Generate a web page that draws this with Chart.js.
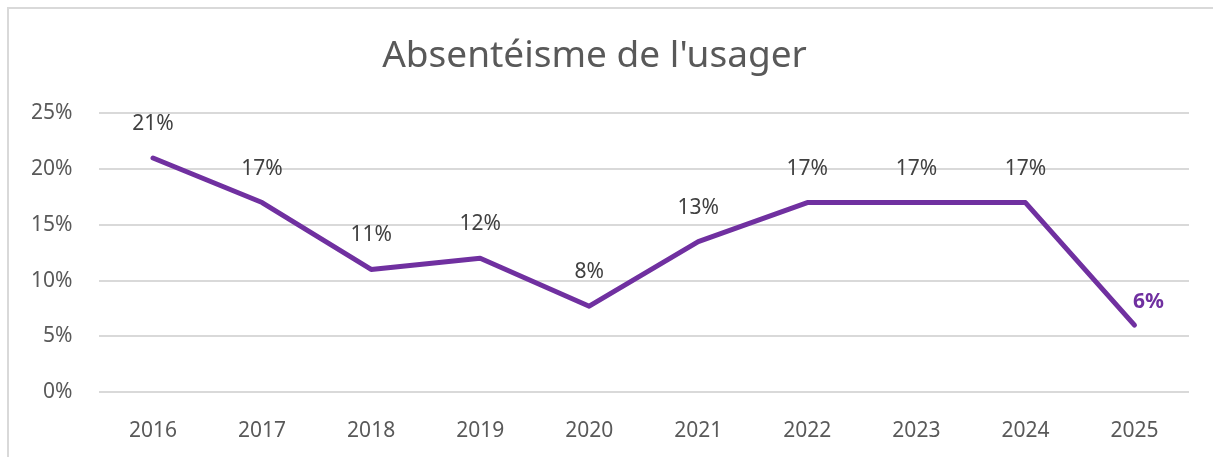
<!DOCTYPE html>
<html>
<head>
<meta charset="utf-8">
<script src="https://cdn.jsdelivr.net/npm/chart.js@4"></script>
<style>
  html, body { margin: 0; padding: 0; background: #fff; overflow: hidden; }
  #frame { position: absolute; left: 7px; top: 7px; width: 1230px; height: 480px; border: 2px solid #d9d9d9; box-sizing: border-box; }
  #wrap { position: absolute; left: 0; top: 0; width: 1213px; height: 457px; }
</style>
</head>
<body>
<div id="frame"></div>
<div id="wrap"><canvas id="myChart" width="1213" height="457"></canvas></div>
<script>
// DATA
const years = ['2016', '2017', '2018', '2019', '2020', '2021', '2022', '2023', '2024', '2025'];
const absenteeism = [21, 17, 11, 12, 7.7, 13.5, 17, 17, 17, 6];
const pointLabels = ['21%', '17%', '11%', '12%', '8%', '13%', '17%', '17%', '17%', '6%'];
const yTicks = [0, 5, 10, 15, 20, 25];

const FONT = "'Comic Sans MS', 'Noto Sans', sans-serif";
const PURPLE = '#7030A0';
const GREY_TEXT = '#595959';

// DATA LABELS (no plugin available offline)
const valueLabels = {
    id: 'valueLabels',
    afterDatasetsDraw(chart) {
        const ctx = chart.ctx;
        const meta = chart.getDatasetMeta(0);
        ctx.save();
        ctx.textAlign = 'center';
        ctx.textBaseline = 'middle';
        meta.data.forEach((pt, i) => {
            const last = i === meta.data.length - 1;
            if (last) {
                ctx.font = 'bold 21px ' + FONT;
                ctx.fillStyle = PURPLE;
                ctx.fillText(pointLabels[i], pt.x + 14, pt.y - 23);
            } else {
                ctx.font = '21px ' + FONT;
                ctx.fillStyle = '#404040';
                ctx.fillText(pointLabels[i], pt.x, pt.y - 34);
            }
        });
        ctx.restore();
    }
};

var ctx = document.getElementById('myChart');
var myChart = new Chart(ctx, {
    type: 'line',
    data: {
        labels: years,
        datasets: [{
            label: "Absentéisme de l'usager",
            data: absenteeism,
            borderColor: PURPLE,
            borderWidth: 5,
            borderCapStyle: 'round',
            borderJoinStyle: 'round',
            pointRadius: 0,
            tension: 0,
            fill: false
        }]
    },
    options: {
        responsive: false,
        animation: false,
        layout: { padding: { left: 0, right: 24, top: 0, bottom: 0 } },
        plugins: {
            legend: { display: false },
            tooltip: { enabled: false },
            title: {
                display: true,
                text: "Absentéisme de l'usager",
                color: GREY_TEXT,
                font: { family: FONT, size: 37, weight: 'normal', lineHeight: 1.2 },
                padding: { top: 34, bottom: 35 }
            }
        },
        scales: {
            x: {
                offset: true,
                grid: { display: false },
                border: { display: false },
                ticks: { color: GREY_TEXT, font: { family: FONT, size: 21 }, padding: 18 },
                afterFit(scale) { scale.height = 65; }
            },
            y: {
                min: 0,
                max: 25,
                afterBuildTicks(scale) { scale.ticks = yTicks.map(v => ({ value: v })); },
                grid: { color: '#d9d9d9', lineWidth: 2, drawTicks: false },
                border: { display: false },
                ticks: {
                    color: GREY_TEXT,
                    font: { family: FONT, size: 21 },
                    padding: 26,
                    callback: v => v + '%'
                },
                afterFit(scale) { scale.width = 98.5; }
            }
        }
    },
    plugins: [valueLabels]
});
</script>
</body>
</html>
